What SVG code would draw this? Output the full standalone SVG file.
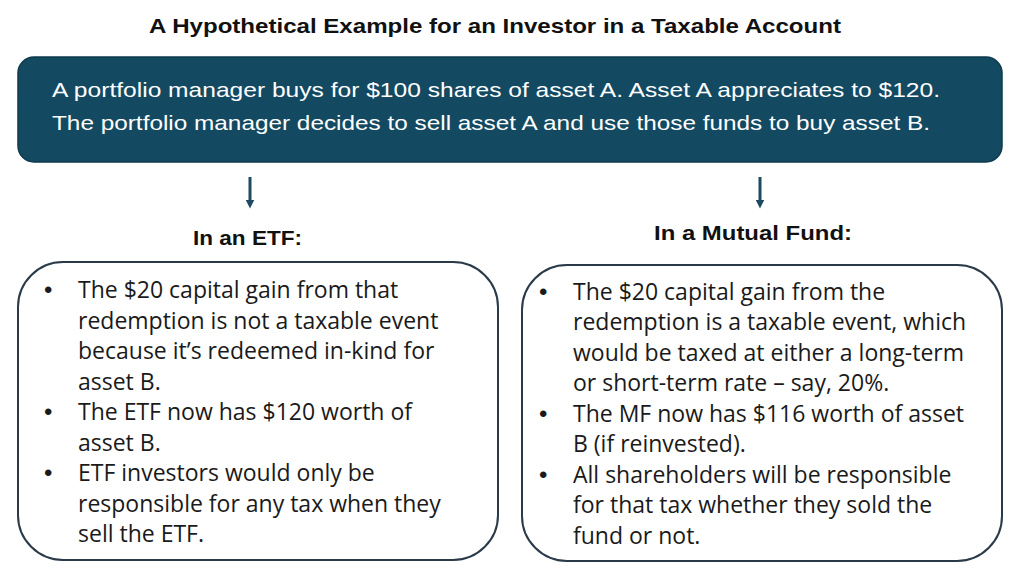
<svg xmlns="http://www.w3.org/2000/svg" width="1024" height="585" viewBox="0 0 1024 585">
<defs>
<style>
.title{font-family:"Liberation Sans",Arial,sans-serif;font-weight:bold;font-size:21px;fill:#111}
.head{font-family:"Liberation Sans",Arial,sans-serif;font-weight:bold;font-size:21px;fill:#111}
.top{font-family:"Liberation Sans",Arial,sans-serif;font-size:21px;fill:#ffffff}
.body{font-family:"Open Sans","Liberation Sans",Arial,sans-serif;font-size:23px;fill:#1a1a1a}
.bul{font-family:"Liberation Sans",Arial,sans-serif;font-size:24px;fill:#1a1a1a}
.box{fill:#ffffff;stroke:#2a3a48;stroke-width:2}
.conn{stroke:#1d4a60;stroke-width:3;fill:none}
</style>
<marker id="ah" viewBox="0 0 10 10" refX="5" refY="5" markerWidth="3" markerHeight="3" orient="auto">
<path d="M0,0 L10,5 L0,10 z" fill="#1d4a60"/>
</marker>
</defs>
<rect width="1024" height="585" fill="#ffffff"/>
<text class="title" x="495" y="33" text-anchor="middle" textLength="692" lengthAdjust="spacingAndGlyphs">A Hypothetical Example for an Investor in a Taxable Account</text>
<g id="top-node">
<rect x="18" y="57" width="984" height="105" rx="16" fill="#134a62" stroke="#0e3a4e" stroke-width="1.5"/>
<text class="top" x="52" y="97" textLength="888" lengthAdjust="spacingAndGlyphs">A portfolio manager buys for $100 shares of asset A. Asset A appreciates to $120.</text>
<text class="top" x="52" y="130" textLength="878" lengthAdjust="spacingAndGlyphs">The portfolio manager decides to sell asset A and use those funds to buy asset B.</text>
</g>
<g id="connectors">
<line class="conn" x1="250" y1="177" x2="250" y2="204" marker-end="url(#ah)"/>
<line class="conn" x1="760" y1="177" x2="760" y2="204" marker-end="url(#ah)"/>
</g>
<g id="etf-node">
<text class="head" x="193" y="245" textLength="109" lengthAdjust="spacingAndGlyphs">In an ETF:</text>
<rect class="box" x="18" y="262" width="480" height="298" rx="45"/>
<g class="bul">
<text x="44" y="298">•</text><text x="44" y="420">•</text><text x="44" y="481">•</text>
</g>
<text class="body">
<tspan x="78" y="298">The $20 capital gain from that</tspan>
<tspan x="78" y="329">redemption is not a taxable event</tspan>
<tspan x="78" y="359">because it’s redeemed in-kind for</tspan>
<tspan x="78" y="390">asset B.</tspan>
<tspan x="78" y="420">The ETF now has $120 worth of</tspan>
<tspan x="78" y="451">asset B.</tspan>
<tspan x="78" y="481">ETF investors would only be</tspan>
<tspan x="78" y="512">responsible for any tax when they</tspan>
<tspan x="78" y="542">sell the ETF.</tspan>
</text>
</g>
<g id="mf-node">
<text class="head" x="654" y="240" textLength="198" lengthAdjust="spacingAndGlyphs">In a Mutual Fund:</text>
<rect class="box" x="522" y="265" width="480" height="296" rx="45"/>
<g class="bul">
<text x="539" y="300">•</text><text x="539" y="422">•</text><text x="539" y="483">•</text>
</g>
<text class="body">
<tspan x="573" y="300">The $20 capital gain from the</tspan>
<tspan x="573" y="330">redemption is a taxable event, which</tspan>
<tspan x="573" y="361">would be taxed at either a long-term</tspan>
<tspan x="573" y="391">or short-term rate – say, 20%.</tspan>
<tspan x="573" y="422">The MF now has $116 worth of asset</tspan>
<tspan x="573" y="452">B (if reinvested).</tspan>
<tspan x="573" y="483">All shareholders will be responsible</tspan>
<tspan x="573" y="513">for that tax whether they sold the</tspan>
<tspan x="573" y="544">fund or not.</tspan>
</text>
</g>
</svg>
